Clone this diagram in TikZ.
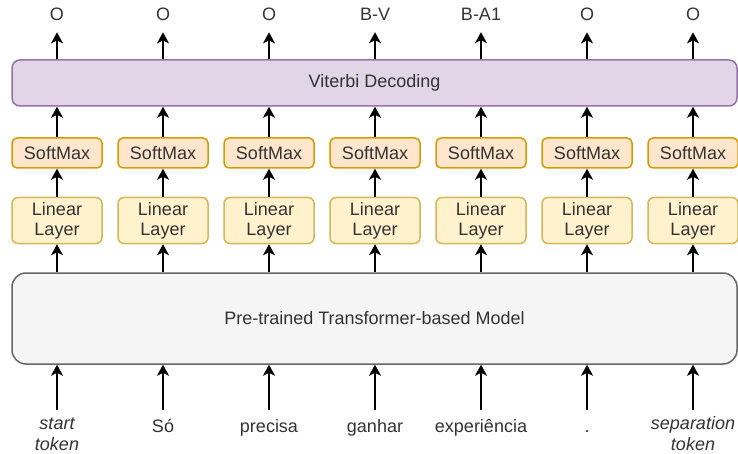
\documentclass[tikz,border=0pt]{standalone}
\usepackage{fontspec}
\setmainfont{Liberation Sans}
\usetikzlibrary{arrows.meta,calc}
\definecolor{txt}{HTML}{333333}
\definecolor{vitfill}{HTML}{E1D5E7}
\definecolor{vitdraw}{HTML}{9673A6}
\definecolor{smfill}{HTML}{FFE6CC}
\definecolor{smdraw}{HTML}{D79B00}
\definecolor{linfill}{HTML}{FFF2CC}
\definecolor{lindraw}{HTML}{D6B656}
\definecolor{prefill}{HTML}{F5F5F5}
\definecolor{predraw}{HTML}{666666}
\begin{document}
\begin{tikzpicture}[x=1pt,y=-1pt,
  every node/.style={font=\fontsize{18}{21}\selectfont, text=txt},
  box/.style={draw, line width=1.5pt, inner sep=0pt, align=center},
  vitbox/.style={box, fill=vitfill, draw=vitdraw, rounded corners=8pt, minimum width=725pt, minimum height=46pt},
  smbox/.style={box, fill=smfill, draw=smdraw, rounded corners=5pt, minimum width=90pt, minimum height=30pt},
  linbox/.style={box, fill=linfill, draw=lindraw, rounded corners=6pt, minimum width=90pt, minimum height=46pt},
  prebox/.style={box, fill=prefill, draw=predraw, rounded corners=14pt, minimum width=725pt, minimum height=91pt},
  outlbl/.style={inner sep=0pt, anchor=base},
  inlbl/.style={inner sep=0pt, anchor=base},
  arr/.style={draw=black, line width=1.5pt, -{Stealth[length=11pt,width=12pt,inset=3pt]}}
]
\useasboundingbox (0,0) rectangle (738,454);

\node[vitbox] (vit) at (374.5,83) {Viterbi Decoding};
\node[prebox] (pre) at (374.5,318.5) {Pre-trained Transformer-based Model};

\foreach \i/\x/\o in {1/57/O,2/163/O,3/269/O,4/375/B-V,5/481/B-A1,6/587/O,7/693/O}{
  \node[smbox] (sm\i) at (\x,153) {SoftMax};
  \node[linbox] (lin\i) at (\x,220.5) {Linear\\[-1pt]Layer};
  \node[outlbl] (out\i) at (\x,21) {\o};
  \coordinate (src\i) at (\x,410);
  \draw[arr, shorten >=11pt] (vit.north -| out\i) -- (out\i.south);
  \draw[arr] (sm\i.north) -- (sm\i.north |- vit.south);
  \draw[arr] (lin\i.north) -- (sm\i.south);
  \draw[arr] (pre.north -| lin\i) -- (lin\i.south);
  \draw[arr] (src\i) -- (src\i |- pre.south);
}

\node[inlbl] (in1) at (57,429) {\begin{tabular}[t]{@{}c@{}}\itshape start\\\itshape token\end{tabular}};
\node[inlbl] (in2) at (163,432) {Só};
\node[inlbl] (in3) at (269,432) {precisa};
\node[inlbl] (in4) at (375,432) {ganhar};
\node[inlbl] (in5) at (481,432) {experiência};
\node[inlbl] (in6) at (587,432) {.};
\node[inlbl] (in7) at (693,429) {\begin{tabular}[t]{@{}c@{}}\itshape separation\\\itshape token\end{tabular}};
\end{tikzpicture}
\end{document}
